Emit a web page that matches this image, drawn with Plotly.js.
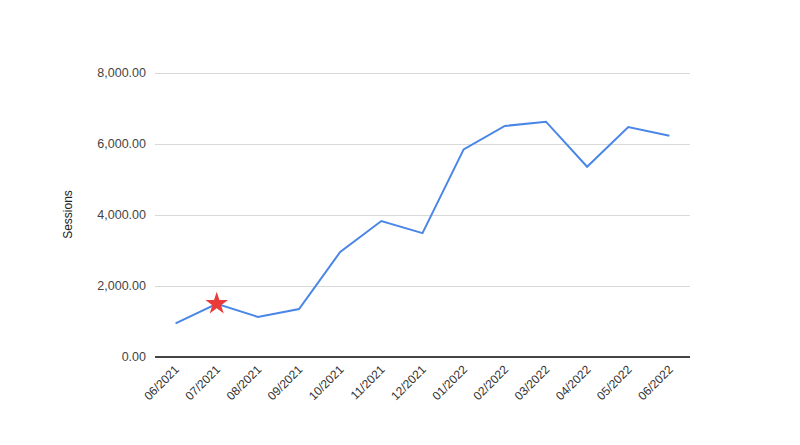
<!DOCTYPE html>
<html>
<head>
<meta charset="utf-8">
<script src="https://cdn.plot.ly/plotly-3.0.1.min.js"></script>
<style>html,body{margin:0;padding:0;background:#fff;}#chart{width:800px;height:445px;}</style>
</head>
<body>
<div id="chart"></div>
<script>
const months = ["06/2021","07/2021","08/2021","09/2021","10/2021","11/2021","12/2021","01/2022","02/2022","03/2022","04/2022","05/2022","06/2022"];
const sessions = [950, 1500, 1130, 1350, 2960, 3830, 3490, 5850, 6510, 6630, 5360, 6480, 6235];
const highlightIndex = 1;
const yTicks = [0, 2000, 4000, 6000, 8000];

const traces = [
  {
    x: months, y: sessions, type: 'scatter', mode: 'lines',
    line: {color: '#4a86e8', width: 2}, hoverinfo: 'x+y', showlegend: false
  },
  {
    x: [months[highlightIndex]], y: [sessions[highlightIndex]], type: 'scatter', mode: 'markers',
    marker: {symbol: 'star', size: 17, color: '#ea3a3a', line: {width: 0}}, showlegend: false
  }
];

const layout = {
  width: 800, height: 445,
  margin: {l: 155, r: 110, t: 72, b: 88},
  paper_bgcolor: '#fff', plot_bgcolor: '#fff',
  font: {family: 'Arial, Liberation Sans, sans-serif', color: '#444', size: 12},
  xaxis: {
    type: 'category', range: [-0.5, 12.5], tickangle: -45,
    showgrid: false, zeroline: false, showline: false, ticks: '',
    ticklabelstandoff: 2,
    tickfont: {size: 12, color: '#333'}
  },
  yaxis: {
    range: [0, 8030], tickvals: yTicks, tickformat: ',.2f',
    showgrid: true, gridcolor: '#d9d9d9', gridwidth: 1,
    zeroline: true, zerolinecolor: '#444', zerolinewidth: 1.3,
    showline: false, ticks: '', ticklabelstandoff: 8,
    tickfont: {size: 12.5, color: '#444'},
    title: {text: 'Sessions', font: {size: 12, color: '#222'}, standoff: 22}
  }
};

Plotly.newPlot('chart', traces, layout, {displayModeBar: false, staticPlot: true});
</script>
</body>
</html>
